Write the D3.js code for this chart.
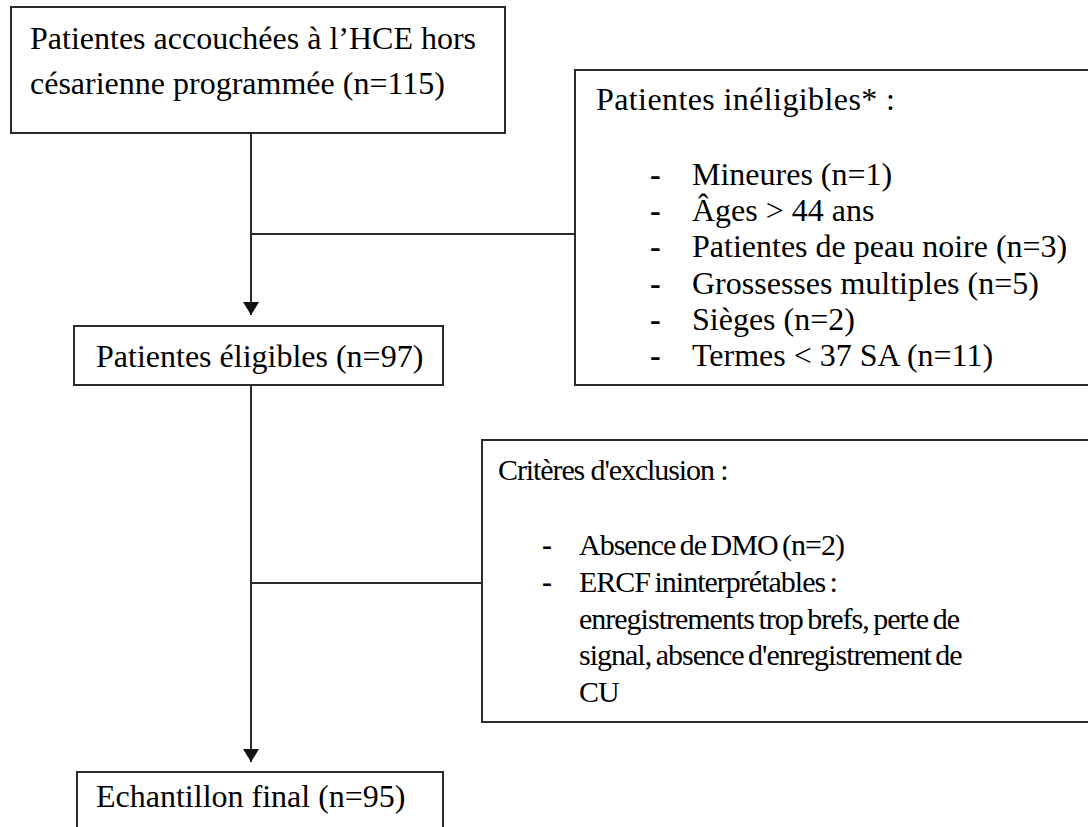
<!DOCTYPE html>
<html>
<head>
  <meta charset="utf-8" />
  <title>Flowchart</title>
  <script src="https://cdn.jsdelivr.net/npm/d3@7"></script>
  <style>
    body { margin: 0; background: #fff; }
    svg text { font-family: "Liberation Serif", "Times New Roman", serif; fill: #000; }
  </style>
</head>
<body>
<div id="vis"></div>
<script>
// flow stages and their counts
var stageLines = [
  ["Patientes accouchées à l\u2019HCE hors", "césarienne programmée"],
  ["Patientes éligibles"],
  ["Echantillon final"]
];
var stageN = [115, 97, 95];

// ineligible patients
var ineligTitle = "Patientes inéligibles* :";
var ineligLabels = ["Mineures", "Âges > 44 ans", "Patientes de peau noire", "Grossesses multiples", "Sièges", "Termes < 37 SA"];
var ineligN = [1, null, 3, 5, 2, 11];

// exclusion criteria
var exclTitle = "Critères d'exclusion :";
var exclLabels = ["Absence de DMO", "ERCF ininterprétables :"];
var exclN = [2, null];
var exclDetail = ["enregistrements trop brefs, perte de", "signal, absence d'enregistrement de", "CU"];

var w = 1088, h = 827;
var stroke = "#2a2a2a";

function withN(label, n) {
  return n == null ? label : label + " (n=" + n + ")";
}

var svg = d3.select("#vis").append("svg")
  .attr("width", w)
  .attr("height", h);

svg.append("defs").append("marker")
  .attr("id", "arrow")
  .attr("viewBox", "0 0 10 10")
  .attr("preserveAspectRatio", "none")
  .attr("refX", 10).attr("refY", 5)
  .attr("markerUnits", "userSpaceOnUse")
  .attr("markerWidth", 13).attr("markerHeight", 16)
  .attr("orient", "auto")
  .append("path")
  .attr("d", "M0,0L10,5L0,10Z")
  .attr("fill", "#111");

function box(x, y, bw, bh) {
  svg.append("rect")
    .attr("x", x).attr("y", y)
    .attr("width", bw).attr("height", bh)
    .attr("fill", "white")
    .attr("stroke", stroke)
    .attr("stroke-width", 2);
}

function line(x1, y1, x2, y2, arrow) {
  var l = svg.append("line")
    .attr("x1", x1).attr("y1", y1)
    .attr("x2", x2).attr("y2", y2)
    .attr("stroke", stroke)
    .attr("stroke-width", 2);
  if (arrow) l.attr("marker-end", "url(#arrow)");
}

// main spine
var spineX = 251;
line(spineX, 133, spineX, 315, true);
line(spineX, 234, 575, 234);
line(spineX, 385, spineX, 762, true);
line(spineX, 583, 482, 583);

// stage boxes
var stageBox = [
  {x: 11, y: 7, w: 494, h: 126, tx: 30, ty: 49, lh: 45},
  {x: 74, y: 326, w: 369, h: 59, tx: 96, ty: 367, lh: 0},
  {x: 77, y: 772, w: 366, h: 80, tx: 96, ty: 807, lh: 0}
];

stageBox.forEach(function(b, i) {
  box(b.x, b.y, b.w, b.h);
  var lines = stageLines[i].slice();
  lines[lines.length - 1] = withN(lines[lines.length - 1], stageN[i]);
  svg.selectAll(null)
    .data(lines)
    .enter()
    .append("text")
    .attr("x", b.tx)
    .attr("y", function(d, j) { return b.ty + j * b.lh; })
    .style("font-size", "32px")
    .text(function(d) { return d; });
});

// ineligible box
box(575, 70, 530, 315);
svg.append("text")
  .attr("x", 596).attr("y", 110)
  .style("font-size", "32px")
  .style("letter-spacing", "0.4px")
  .text(ineligTitle);

var yIn = d3.scalePoint()
  .domain(d3.range(ineligLabels.length))
  .range([185, 366]);

var ineligRows = svg.selectAll("g.inelig")
  .data(ineligLabels)
  .enter()
  .append("g")
  .attr("class", "inelig")
  .attr("transform", function(d, i) { return "translate(0," + yIn(i) + ")"; });

ineligRows.append("text")
  .attr("x", 650)
  .style("font-size", "32px")
  .style("font-weight", "bold")
  .text("-");

ineligRows.append("text")
  .attr("x", 692)
  .style("font-size", "32px")
  .text(function(d, i) { return withN(d, ineligN[i]); });

// exclusion box
box(482, 440, 620, 282);
svg.append("text")
  .attr("x", 498).attr("y", 480)
  .style("font-size", "30px")
  .style("letter-spacing", "-1.1px")
  .text(exclTitle);

var exclAll = exclLabels.map(function(d, i) { return {t: withN(d, exclN[i]), bullet: true}; })
  .concat(exclDetail.map(function(d) { return {t: d, bullet: false}; }));

var yEx = d3.scalePoint()
  .domain(d3.range(exclAll.length))
  .range([555, 702]);

var exclRows = svg.selectAll("g.excl")
  .data(exclAll)
  .enter()
  .append("g")
  .attr("class", "excl")
  .attr("transform", function(d, i) { return "translate(0," + yEx(i) + ")"; });

exclRows.filter(function(d) { return d.bullet; })
  .append("text")
  .attr("x", 542)
  .style("font-size", "30px")
  .style("font-weight", "bold")
  .text("-");

exclRows.append("text")
  .attr("x", 579)
  .style("font-size", "30px")
  .style("letter-spacing", "-1px")
  .style("word-spacing", "-2px")
  .text(function(d) { return d.t; });
</script>
</body>
</html>
